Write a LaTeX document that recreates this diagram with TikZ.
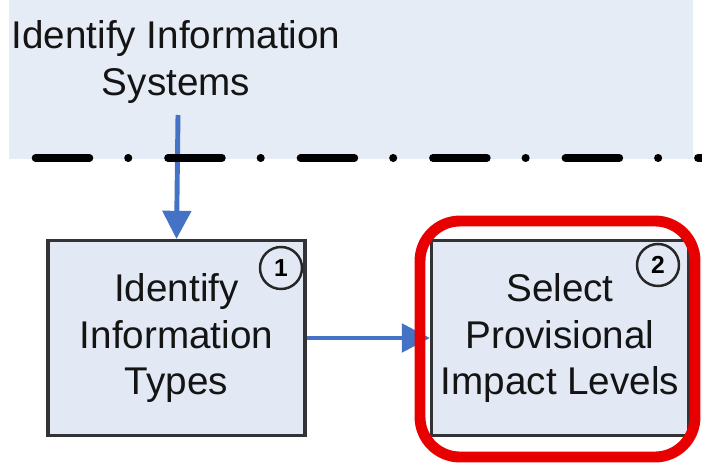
\documentclass[tikz,border=0pt]{standalone}
\usepackage{fontspec}
\setmainfont{Liberation Sans}
\usetikzlibrary{arrows.meta}
\usepackage{xcolor}
\definecolor{bandBlue}{RGB}{230,236,246}
\definecolor{boxBlue}{RGB}{226,233,245}
\definecolor{flowBlue}{RGB}{68,114,196}
\definecolor{boxEdge}{RGB}{50,50,55}
\definecolor{markRed}{RGB}{232,0,0}

\tikzset{
  stepbox/.style={draw=boxEdge, line width=1.8pt, fill=boxBlue,
    minimum width=5.14cm, minimum height=3.9cm, align=center,
    font=\fontsize{22}{26.5}\selectfont, text=black!92},
  numcircle/.style={circle, draw=black!85, line width=1.4pt, fill=boxBlue,
    minimum size=0.84cm, inner sep=0pt, font=\fontsize{14}{16}\selectfont\bfseries},
  flow/.style={flowBlue, line width=2.8pt, -{Triangle[length=16pt,width=16pt]}}
}

\begin{document}
\begin{tikzpicture}[x=0.02cm,y=-0.02cm]
  \useasboundingbox (0,0) rectangle (702,466);

  % Light band on top
  \fill[bandBlue] (9,0) rectangle (693,159);

  % Band label
  \node[align=center, font=\fontsize{22}{26.5}\selectfont, text=black!92]
    (sys) at (176,62) {Identify Information\\Systems};

  % Boxes
  \node[stepbox] (types) at (176.5,338) {Identify\\Information\\Types};
  \node[stepbox] (levels) at (560,338) {Select\\Provisional\\Impact Levels};

  % Step numbers
  \node[numcircle] (n1) at (281,268) {1};
  \node[numcircle] (n2) at (658,265) {2};

  % Arrows
  \coordinate (src) at (178,115);
  \coordinate (out) at (697,338);
  \draw[flow] (src) -- (types.north);
  \draw[flow] (types.east) -- (levels.west);
  \draw[flowBlue, line width=2.8pt] (levels.east) -- (out);

  % Dash-dot boundary (drawn over the arrow)
  \draw[black, line width=4.3pt, line cap=round,
    dash pattern=on 1.08cm off 0.77cm on 0.01cm off 0.79cm]
    (35.5,158) -- (720,158);

  % Red highlight
  \draw[markRed, line width=6.2pt, rounded corners=0.8cm]
    (420,221) rectangle (695,457);

\end{tikzpicture}
\end{document}
